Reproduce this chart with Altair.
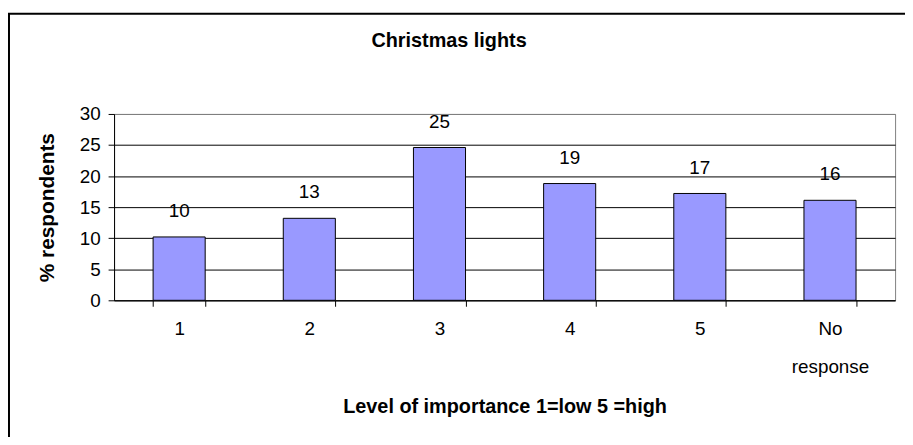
import altair as alt
import pandas as pd

categories = ["1", "2", "3", "4", "5", "No response"]
values = [10.2, 13.2, 24.6, 18.8, 17.2, 16.1]
y_ticks = [0, 5, 10, 15, 20, 25, 30]
chart_title = "Christmas lights"

df = pd.DataFrame({"level": categories, "pct": values})

FONT = "Liberation Sans"

x_enc = alt.X(
    "level:N",
    sort=categories,
    scale=alt.Scale(paddingInner=0.6, paddingOuter=0.3),
    axis=alt.Axis(
        title="Level of importance 1=low 5 =high",
        titleFontSize=20,
        titleFontWeight="bold",
        titleFont=FONT,
        titleColor="black",
        titlePadding=20,
        labelAngle=0,
        labelFont=FONT,
        labelFontSize=19,
        labelColor="black",
        labelPadding=14,
        labelLineHeight=38,
        labelExpr="split(datum.label, ' ')",
        tickBand="extent",
        tickSize=6,
        tickColor="black",
        domainColor="black",
        grid=False,
    ),
)

y_enc = alt.Y(
    "pct:Q",
    scale=alt.Scale(domain=[0, 30], nice=False),
    axis=alt.Axis(
        title="% respondents",
        titleFontSize=21,
        titleFontWeight="bold",
        titleFont=FONT,
        titleColor="black",
        titlePadding=22,
        values=y_ticks,
        labelFont=FONT,
        labelFontSize=19,
        labelColor="black",
        labelPadding=8,
        tickSize=6,
        tickColor="black",
        domainColor="black",
        grid=True,
        gridColor=alt.condition("datum.value == 30", alt.value("#808080"), alt.value("black")),
        gridOpacity=1,
    ),
)

base = alt.Chart(df).encode(x=x_enc, y=y_enc)

bars = base.mark_bar(color="#9999FF", stroke="black", strokeWidth=1)

labels = base.mark_text(
    font=FONT, fontSize=19, color="black", baseline="alphabetic", dy=-20
).encode(text=alt.Text("pct:Q", format=".0f"))

frame = alt.Chart(alt.InlineData(values=[{"f": 1}])).mark_rect(
    fill=None, stroke="black", strokeWidth=2
).encode(
    x=alt.value(-106), x2=alt.value(900), y=alt.value(-101), y2=alt.value(400)
)

title_mark = alt.Chart(alt.InlineData(values=[{"t": chart_title}])).mark_text(
    font=FONT, fontSize=20, fontWeight="bold", color="black",
    align="center", baseline="alphabetic"
).encode(
    x=alt.value(338), y=alt.value(-68), text="t:N"
)

chart = alt.layer(bars, labels, frame, title_mark).properties(
    width=788,
    height=188,
    autosize=alt.AutoSizeParams(type="none"),
    padding={"left": 107, "top": 105, "right": 10, "bottom": 136},
    background="white",
).configure_view(stroke="#808080", strokeWidth=1)

chart.save("out.html", embed_options={"renderer": "svg", "actions": False})
